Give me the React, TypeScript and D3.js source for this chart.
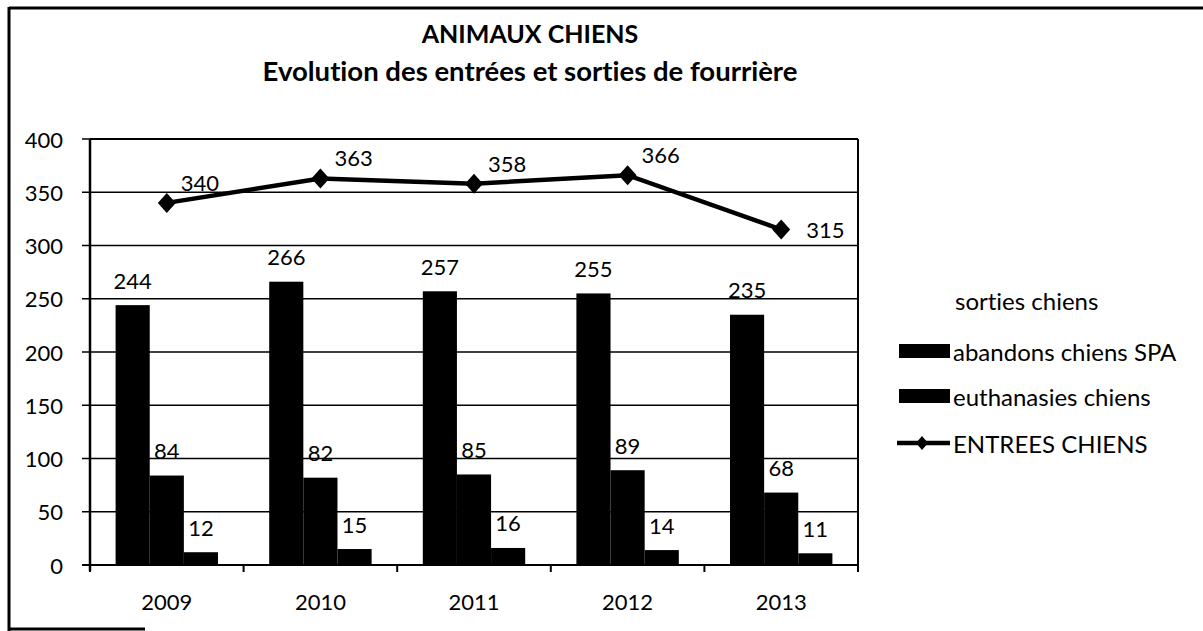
import React from "react";
import * as d3 from "d3";

const years = ["2009", "2010", "2011", "2012", "2013"];
const seriesNames = ["sorties chiens", "abandons chiens SPA", "euthanasies chiens"];
const sorties = [244, 266, 257, 255, 235];
const abandons = [84, 82, 85, 89, 68];
const euthanasies = [12, 15, 16, 14, 11];
const entrees = [340, 363, 358, 366, 315];
const lineName = "ENTREES CHIENS";
const yTicks = [0, 50, 100, 150, 200, 250, 300, 350, 400];
const title = "ANIMAUX CHIENS";
const subtitle = "Evolution des entrées et sorties de fourrière";

const W = 1203;
const H = 631;
const plot = { left: 90, right: 858, top: 139, bottom: 565 };
const FONT = "Lato, 'Open Sans', sans-serif";

export default function App() {
  const x = d3.scaleBand<string>().domain(years).range([plot.left, plot.right]).paddingInner(0).paddingOuter(0);
  const x1 = d3.scaleBand<string>().domain(seriesNames).range([0, x.bandwidth()]).paddingInner(0).paddingOuter(0.75);
  const y = d3.scaleLinear().domain([0, 400]).range([plot.bottom, plot.top]);
  const barSeries = [sorties, abandons, euthanasies];
  const lineGen = d3
    .line<number>()
    .x((_, i) => (x(years[i]) as number) + x.bandwidth() / 2)
    .y((d) => y(d));
  const diamond = "M0,-10L9,0L0,10L-9,0Z";
  const fontSize = 22;
  const legendSize = 24;

  return (
    <svg
      width={W}
      height={H}
      style={{ position: "absolute", left: 0, top: 0, background: "#fff", fontVariantLigatures: "none" }}
      fontFamily={FONT}
    >
      <rect x={0} y={0} width={W} height={H} fill="#fff" />
      {/* outer frame */}
      <line x1={9} y1={8} x2={W} y2={8} stroke="#000" strokeWidth={3} />
      <line x1={9} y1={7} x2={9} y2={H} stroke="#000" strokeWidth={3} />
      <line x1={8} y1={629} x2={145} y2={629} stroke="#000" strokeWidth={3} />

      {/* titles */}
      <text x={530} y={43} textAnchor="middle" fontWeight="bold" fontSize={25}>{title}</text>
      <text x={530} y={81} textAnchor="middle" fontWeight="bold" fontSize={27.5}>{subtitle}</text>

      {/* gridlines */}
      {yTicks.map((t) => (
        <g key={t}>
          <line x1={plot.left} x2={plot.right} y1={y(t)} y2={y(t)} stroke="#000" strokeWidth={1.5} />
          <line x1={plot.left - 8} x2={plot.left} y1={y(t)} y2={y(t)} stroke="#000" strokeWidth={1.5} />
          <text x={63} y={y(t)} textAnchor="end" dominantBaseline="central" fontSize={fontSize}>{t}</text>
        </g>
      ))}
      {/* plot border */}
      <line x1={plot.right} x2={plot.right} y1={plot.top} y2={plot.bottom} stroke="#000" strokeWidth={2} />
      <line x1={plot.left} x2={plot.right} y1={plot.top} y2={plot.top} stroke="#000" strokeWidth={2} />

      {/* bars */}
      {barSeries.map((vals, si) =>
        vals.map((v, i) => {
          const bx = (x(years[i]) as number) + (x1(seriesNames[si]) as number);
          return (
            <g key={`${si}-${i}`}>
              <rect x={bx} y={y(v)} width={x1.bandwidth()} height={y(0) - y(v)} fill="#000" />
              <text x={bx + x1.bandwidth() / 2} y={y(v) - 25} textAnchor="middle" dominantBaseline="central" fontSize={fontSize}>{v}</text>
            </g>
          );
        })
      )}

      {/* axes */}
      <line x1={plot.left} x2={plot.left} y1={plot.top} y2={plot.bottom + 6} stroke="#000" strokeWidth={2.5} />
      <line x1={plot.left - 8} x2={plot.right} y1={plot.bottom} y2={plot.bottom} stroke="#000" strokeWidth={2} />
      {years.concat(["end"]).map((yr, i) => {
        const px = i < years.length ? (x(yr) as number) : plot.right;
        return <line key={yr} x1={px} x2={px} y1={plot.bottom} y2={plot.bottom + 7} stroke="#000" strokeWidth={2} />;
      })}
      {years.map((yr) => (
        <text key={yr} x={(x(yr) as number) + x.bandwidth() / 2} y={601} textAnchor="middle" dominantBaseline="central" fontSize={fontSize}>{yr}</text>
      ))}

      {/* line series */}
      <path d={lineGen(entrees) || ""} fill="none" stroke="#000" strokeWidth={4.5} />
      {entrees.map((v, i) => {
        const px = (x(years[i]) as number) + x.bandwidth() / 2;
        const py = y(v);
        const last = i === entrees.length - 1;
        return (
          <g key={i}>
            <path d={diamond} transform={`translate(${px},${py})`} fill="#000" />
            <text x={px + (last ? 25 : 14)} y={py + (last ? 8 : -12)} fontSize={fontSize}>{v}</text>
          </g>
        );
      })}

      {/* legend */}
      <text x={955} y={300} dominantBaseline="central" fontSize={legendSize}>{seriesNames[0]}</text>
      {seriesNames.slice(1).map((n, i) => (
        <g key={n}>
          <rect x={899} y={344 + i * 45} width={51} height={14} fill="#000" />
          <text x={953} y={351 + i * 45} dominantBaseline="central" fontSize={legendSize}>{n}</text>
        </g>
      ))}
      <line x1={897} x2={950} y1={443} y2={443} stroke="#000" strokeWidth={4.5} />
      <path d="M0,-7L6,0L0,7L-6,0Z" transform="translate(922,443)" fill="#000" />
      <text x={953} y={443} dominantBaseline="central" fontSize={legendSize}>{lineName}</text>
    </svg>
  );
}
